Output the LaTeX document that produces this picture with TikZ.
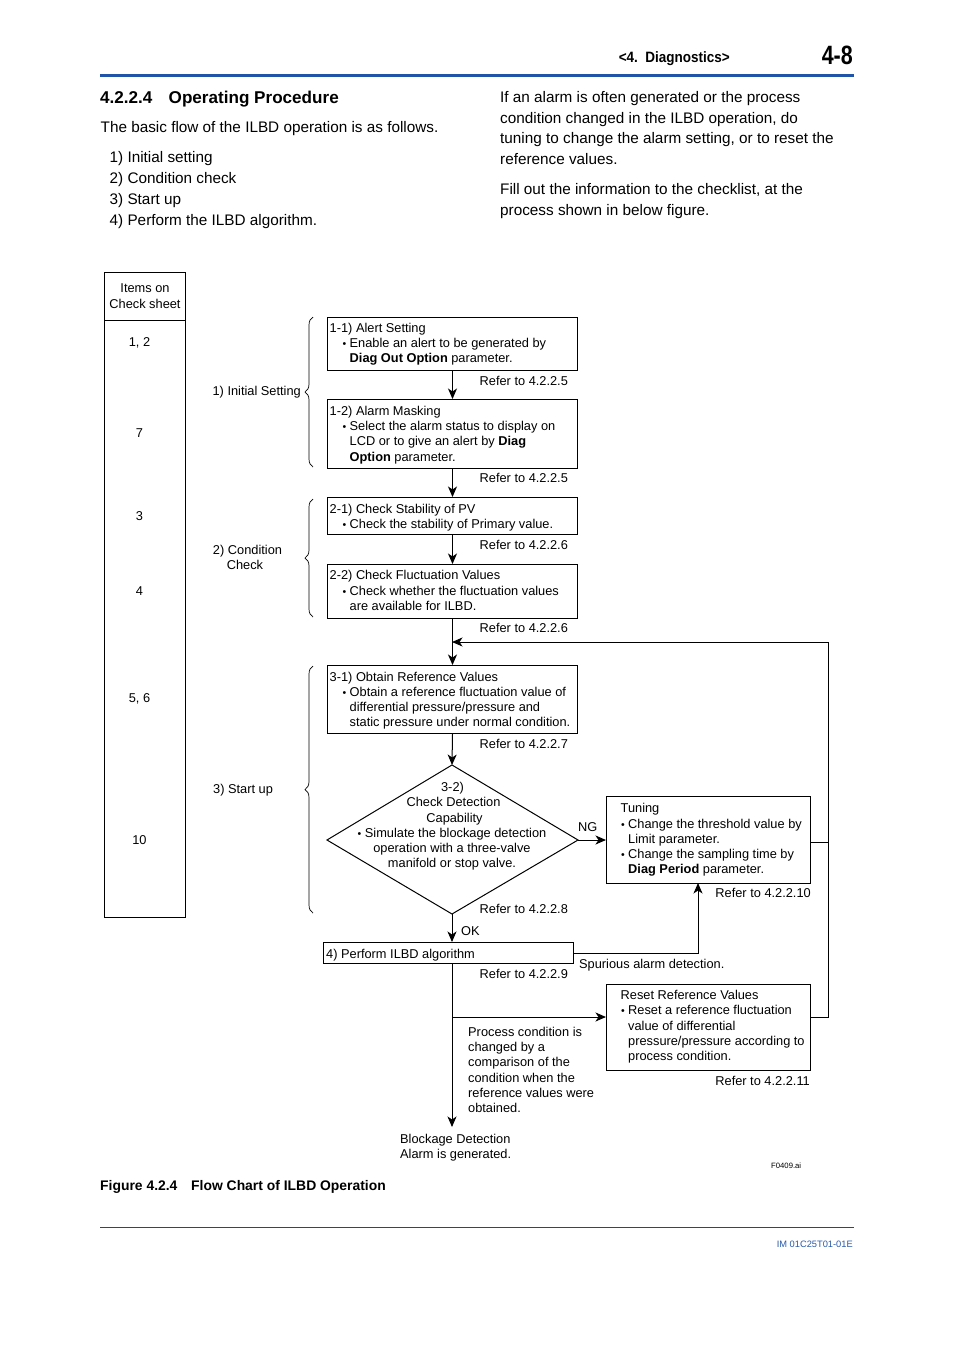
\documentclass[tikz,border=0pt]{standalone}
\usepackage{fontspec}
\setmainfont{Liberation Sans}
\usetikzlibrary{arrows.meta,decorations.pathreplacing}
\definecolor{hdrblue}{RGB}{32,84,168}
\definecolor{ftblue}{RGB}{40,90,170}
\newcommand\fcsmall{\fontsize{12.8pt}{15.3pt}\selectfont}
\newcommand\fcbody{\fontsize{15.3pt}{20pt}\selectfont}
\newcommand\bul{{\fontsize{10.5pt}{10.5pt}\selectfont •}}
\begin{document}
\begin{tikzpicture}[x=1pt,y=-1pt,
  t/.style={anchor=base west, inner sep=0pt, font=\fcsmall, yshift=-0.8pt},
  te/.style={anchor=base east, inner sep=0pt, font=\fcsmall, yshift=-0.8pt},
  tc/.style={anchor=base, inner sep=0pt, font=\fcsmall, yshift=-0.8pt},
  body/.style={anchor=base west, inner sep=0pt, font=\fcbody},
  box/.style={draw, line width=1pt, inner sep=0pt, anchor=north west},
  ln/.style={line width=1pt},
  arr/.style={line width=1pt, -{Stealth[length=10.5pt,width=9pt,inset=3pt]}},
  brc/.style={decorate, decoration={brace, amplitude=8pt, aspect=0.5}, line width=0.7pt},
]
\useasboundingbox[fill=white] (0,0) rectangle (954,1350);

% ---------- page header ----------
\node[anchor=base east, inner sep=0pt] (hdr) at (730,62)
  {\scalebox{0.9}[1]{\fontsize{15pt}{15pt}\selectfont\bfseries <4.\ \ Diagnostics>}};
\node[anchor=base east, inner sep=0pt] (pg) at (853,64)
  {\scalebox{0.81}[1]{\fontsize{26.5pt}{26.5pt}\selectfont\bfseries 4-8}};
\coordinate (hrL) at (100,75.5);
\coordinate (hrR) at (854,75.5);
\draw[hdrblue, line width=3pt] (hrL) -- (hrR);

% ---------- section text ----------
\node[anchor=base west, inner sep=0pt, font=\fontsize{17.1pt}{20pt}\selectfont\bfseries] (secno) at (100,103.3) {4.2.2.4};
\node[anchor=base west, inner sep=0pt, font=\fontsize{17.1pt}{20pt}\selectfont\bfseries] (sectitle) at (168.5,103.3) {Operating Procedure};
\node[body] (p1) at (100.5,132.7) {The basic flow of the ILBD operation is as follows.};
\node[body] (l1) at (109.5,162.2) {1) Initial setting};
\node[body] (l2) at (109.5,183.4) {2) Condition check};
\node[body] (l3) at (109.5,204.6) {3) Start up};
\node[body] (l4) at (109.5,225.8) {4) Perform the ILBD algorithm.};

\node[body] (r1) at (500,102.5) {If an alarm is often generated or the process};
\node[body] (r2) at (500,123.2) {condition changed in the ILBD operation, do};
\node[body] (r3) at (500,143.9) {tuning to change the alarm setting, or to reset the};
\node[body] (r4) at (500,164.6) {reference values.};
\node[body] (r5) at (500,194.5) {Fill out the information to the checklist, at the};
\node[body] (r6) at (500,215.2) {process shown in below figure.};

% ---------- check sheet column ----------
\node[box, minimum width=81pt, minimum height=645pt] (tbl) at (104,272) {};
\coordinate (tsL) at (104,320);
\coordinate (tsR) at (185,320);
\draw[ln] (tsL) -- (tsR);
\node[tc] (th1) at (145,291.5) {Items on};
\node[tc] (th2) at (145,307.5) {Check sheet};
\node[tc] (n1) at (139.5,345.5) {1, 2};
\node[tc] (n2) at (139.5,436.5) {7};
\node[tc] (n3) at (139.5,519.5) {3};
\node[tc] (n4) at (139.5,594.5) {4};
\node[tc] (n5) at (139.5,701.5) {5, 6};
\node[tc] (n6) at (139.5,843.5) {10};

% ---------- braces and group labels ----------
\coordinate (g1b) at (313,467); \coordinate (g1t) at (313,317);
\coordinate (g2b) at (313,617); \coordinate (g2t) at (313,499);
\coordinate (g3b) at (313,913); \coordinate (g3t) at (313,666);
\draw[brc] (g1b) -- (g1t);
\draw[brc] (g2b) -- (g2t);
\draw[brc] (g3b) -- (g3t);
\node[te] (grp1) at (301,394.5) {1) Initial Setting};
\node[tc] (grp2a) at (247.5,553.5) {2) Condition};
\node[tc] (grp2b) at (245,568.5) {Check};
\node[t] (grp3) at (213,792.5) {3) Start up};

% ---------- boxes ----------
\node[box, minimum width=250pt, minimum height=53pt] (b11) at (327,317) {};
\node[box, minimum width=250pt, minimum height=69pt] (b12) at (327,399) {};
\node[box, minimum width=250pt, minimum height=37pt] (b21) at (327,497) {};
\node[box, minimum width=250pt, minimum height=54pt] (b22) at (327,564) {};
\node[box, minimum width=250pt, minimum height=68pt] (b31) at (327,665) {};
\node[box, minimum width=204pt, minimum height=87pt] (tun) at (606,796) {};
\node[box, minimum width=250pt, minimum height=21pt] (b4) at (323,942) {};
\node[box, minimum width=204pt, minimum height=86pt] (rst) at (606,984) {};

% diamond
\coordinate (dT) at (452,765);
\coordinate (dR) at (578,840);
\coordinate (dB) at (452,914);
\coordinate (dL) at (327,840);
\draw[ln, line join=miter] (dT) -- (dR) -- (dB) -- (dL) -- cycle;

% ---------- box texts ----------
\node[t] (b11a) at (329.5,331.5) {1-1) Alert Setting};
\node[t] (b11s) at (342.5,346.5) {\bul};
\node[t] (b11b) at (349.5,346.5) {Enable an alert to be generated by};
\node[t] (b11c) at (349.5,361.5) {\textbf{Diag Out Option} parameter.};

\node[t] (b12a) at (329.5,414.5) {1-2) Alarm Masking};
\node[t] (b12s) at (342.5,429.5) {\bul};
\node[t] (b12b) at (349.5,429.5) {Select the alarm status to display on};
\node[t] (b12c) at (349.5,445) {LCD or to give an alert by \textbf{Diag}};
\node[t] (b12d) at (349.5,460.5) {\textbf{Option} parameter.};

\node[t] (b21a) at (329.5,512.5) {2-1) Check Stability of PV};
\node[t] (b21s) at (342.5,527.5) {\bul};
\node[t] (b21b) at (349.5,527.5) {Check the stability of Primary value.};

\node[t] (b22a) at (329.5,578.5) {2-2) Check Fluctuation Values};
\node[t] (b22s) at (342.5,594.5) {\bul};
\node[t] (b22b) at (349.5,594.5) {Check whether the fluctuation values};
\node[t] (b22c) at (349.5,609.5) {are available for ILBD.};

\node[t] (b31a) at (329.5,680.5) {3-1) Obtain Reference Values};
\node[t] (b31s) at (342.5,695.5) {\bul};
\node[t] (b31b) at (349.5,695.5) {Obtain a reference fluctuation value of};
\node[t] (b31c) at (349.5,710.5) {differential pressure/pressure and};
\node[t] (b31d) at (349.5,725.5) {static pressure under normal condition.};

\node[tc] (d1) at (452.5,790.5) {3-2)};
\node[tc] (d2) at (453.5,805.5) {Check Detection};
\node[tc] (d3) at (454.5,821.5) {Capability};
\node[tc] (d4) at (452,836.5) {\bul\ Simulate the blockage detection};
\node[tc] (d5) at (452,851.5) {operation with a three-valve};
\node[tc] (d6) at (452,866.5) {manifold or stop valve.};

\node[t] (tu1) at (620.5,811.5) {Tuning};
\node[t] (tu2s) at (621,827.5) {\bul};
\node[t] (tu2) at (628,827.5) {Change the threshold value by};
\node[t] (tu3) at (628,842.5) {Limit parameter.};
\node[t] (tu4s) at (621,857.5) {\bul};
\node[t] (tu4) at (628,857.5) {Change the sampling time by};
\node[t] (tu5) at (628,872.5) {\textbf{Diag Period} parameter.};

\node[t] (b4a) at (326,957.5) {4) Perform ILBD algorithm};

\node[t] (rs1) at (620.5,998.5) {Reset Reference Values};
\node[t] (rs2s) at (621,1013.5) {\bul};
\node[t] (rs2) at (628,1013.5) {Reset a reference fluctuation};
\node[t] (rs3) at (628,1029.5) {value of differential};
\node[t] (rs4) at (628,1044.5) {pressure/pressure according to};
\node[t] (rs5) at (628,1059.5) {process condition.};

% ---------- refer labels ----------
\node[t] (ref1) at (479.5,384.5) {Refer to 4.2.2.5};
\node[t] (ref2) at (479.5,481.5) {Refer to 4.2.2.5};
\node[t] (ref3) at (479.5,549) {Refer to 4.2.2.6};
\node[t] (ref4) at (479.5,632) {Refer to 4.2.2.6};
\node[t] (ref5) at (479.5,747.5) {Refer to 4.2.2.7};
\node[t] (ref6) at (479.5,912.5) {Refer to 4.2.2.8};
\node[t] (ref7) at (479.5,977.5) {Refer to 4.2.2.9};
\node[te] (ref8) at (811,896.5) {Refer to 4.2.2.10};
\node[te] (ref9) at (810,1084.5) {Refer to 4.2.2.11};

\node[t] (ng) at (578,830.5) {NG};
\node[t] (ok) at (461,934.5) {OK};
\node[t] (spur) at (579,967.5) {Spurious alarm detection.};

\node[t] (pc1) at (468,1035.5) {Process condition is};
\node[t] (pc2) at (468,1050.8) {changed by a};
\node[t] (pc3) at (468,1066.1) {comparison of the};
\node[t] (pc4) at (468,1081.4) {condition when the};
\node[t] (pc5) at (468,1096.7) {reference values were};
\node[t] (pc6) at (468,1112) {obtained.};

\node[t] (bd1) at (400,1142.5) {Blockage Detection};
\node[t] (bd2) at (400,1157.5) {Alarm is generated.};

\node[anchor=base west, inner sep=0pt, font=\fontsize{7.7pt}{8pt}\selectfont] (fig) at (771,1168) {F0409.ai};

% ---------- connectors ----------
\draw[arr] (b11.south) -- (b12.north);
\draw[arr] (b12.south) -- (b21.north);
\draw[arr] (b21.south) -- (b22.north);
\draw[arr] (b22.south) -- (b31.north);
\draw[arr] (b31.south) -- (dT);
\draw[arr] (dR) -- (tun.west);
\draw[arr] (dB) -- (dB |- b4.north);

\coordinate (tunB) at (698,883);
\draw[arr] (b4.east) -| (tunB);

\coordinate (tunR) at (810,842);
\coordinate (rstL) at (606,1017);
\coordinate (rstR) at (810,1017);
\coordinate (lpM) at (828,842);
\coordinate (lpB) at (828,1017);
\coordinate (lpT) at (828,642);
\coordinate (mrg) at (452,642);
\draw[ln] (tunR) -- (lpM);
\draw[arr] (rstR) -- (lpB) -- (lpT) -- (mrg);

\coordinate (endP) at (452,1127);
\draw[arr] (dB |- b4.south) -- (endP);
\draw[arr] (dB |- rstL) -- (rstL);

% ---------- caption & footer ----------
\node[anchor=base west, inner sep=0pt, font=\fontsize{13.9pt}{16pt}\selectfont\bfseries] (capno) at (100,1190.7) {Figure 4.2.4};
\node[anchor=base west, inner sep=0pt, font=\fontsize{13.9pt}{16pt}\selectfont\bfseries] (captxt) at (191,1190.7) {Flow Chart of ILBD Operation};
\coordinate (frL) at (100,1227.5);
\coordinate (frR) at (854,1227.5);
\draw[ftblue!80!black, line width=1pt] (frL) -- (frR);
\node[anchor=base east, inner sep=0pt, text=ftblue, font=\fontsize{9.3pt}{10pt}\selectfont] (doc) at (853,1247.5) {IM 01C25T01-01E};
\end{tikzpicture}
\end{document}
